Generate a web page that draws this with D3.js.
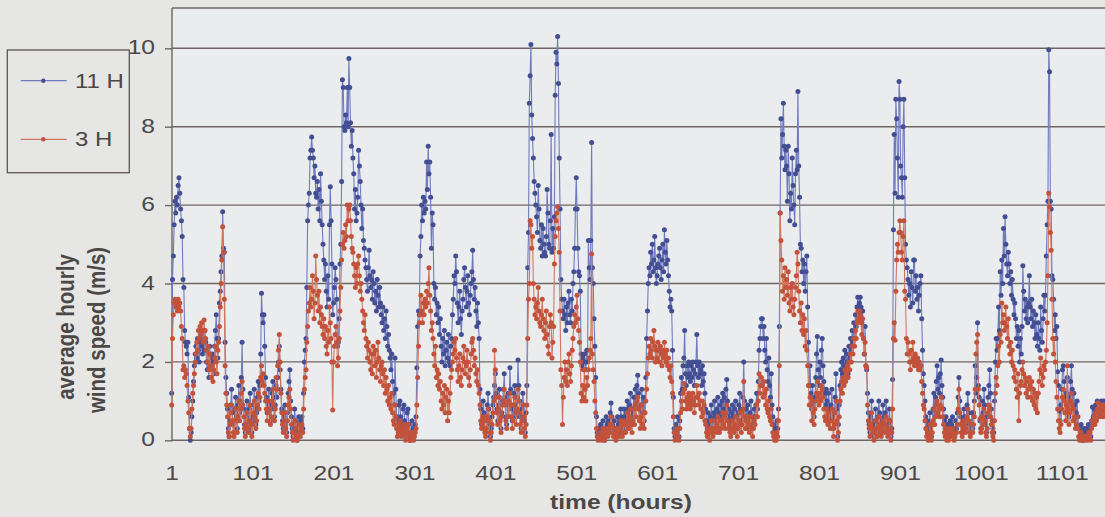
<!DOCTYPE html>
<html>
<head>
<meta charset="utf-8">
<script src="https://cdn.jsdelivr.net/npm/d3@7"></script>
<style>
  body { margin: 0; background: #e6e6e4; }
  svg { display: block; }
  text { font-family: "Liberation Sans", Arial, sans-serif; fill: #4b4846; }
</style>
</head>
<body>
<div id="chart"></div>
<script>
// series names and axis ticks
let seriesNames = ['11 H', '3 H']
let yTicks = [0, 2, 4, 6, 8, 10]
let xTicks = [1, 101, 201, 301, 401, 501, 601, 701, 801, 901, 1001, 1101]

// average hourly wind speed (m/s), one value per hour starting at hour 1
let speed11H = [
  1.2,4.1,4.7,5.5,6.1,5.8,6.2,6.0,6.5,6.7,
  6.3,5.9,5.6,5.2,4.1,3.9,2.8,2.5,2.4,2.2,
  2.5,1.1,0.3,0.0,0.2,0.6,1.0,1.5,1.9,2.2,
  2.4,2.1,2.6,2.3,2.0,2.5,2.7,2.4,2.2,2.6,
  2.3,2.8,2.5,2.0,1.8,2.2,1.6,2.4,2.1,1.9,
  2.2,2.0,1.7,2.4,2.8,3.2,2.6,2.1,2.6,3.5,
  3.8,4.3,4.7,5.83,4.9,4.8,2.5,1.6,1.2,0.8,
  0.3,0.1,0.5,0.9,1.3,0.7,0.4,0.2,0.8,1.1,
  0.6,0.3,0.9,1.4,0.7,1.0,1.6,2.5,1.3,0.8,
  0.4,0.2,0.6,1.0,0.5,0.3,0.8,1.2,0.6,0.2,
  0.5,0.9,1.3,0.8,0.4,0.7,1.1,1.5,1.0,1.4,   // 101
  2.2,3.75,3.2,3.0,3.2,2.4,1.6,1.1,0.7,1.0,
  1.3,0.9,0.5,0.8,1.2,1.5,1.1,0.6,0.9,1.4,
  1.1,1.6,2.0,2.4,1.8,1.3,0.8,0.5,0.3,0.6,
  0.9,0.4,0.2,0.7,1.2,1.5,1.8,1.0,0.6,0.3,
  0.1,0.4,0.8,0.5,0.2,0.0,0.3,0.6,0.4,0.2,
  0.5,0.6,0.3,1.2,2.0,2.3,2.6,3.9,5.6,6.0,
  6.3,7.2,7.4,7.74,7.4,7.2,6.7,7.0,6.3,6.2,
  6.6,5.9,6.4,5.6,6.8,6.1,5.5,5.0,4.6,4.1,
  4.5,3.8,3.4,4.2,3.6,5.5,6.47,5.6,4.5,3.2,
  3.5,3.9,4.4,4.1,3.6,2.4,2.5,3.1,4.5,5.0,   // 201
  6.6,9.2,9.0,8.0,7.9,8.3,8.1,9.0,8.0,9.74,
  9.0,8.1,7.5,7.9,7.2,6.8,5.9,6.4,5.6,5.8,
  6.2,7.4,7.0,6.6,6.0,5.4,5.9,5.1,4.9,4.6,
  4.4,4.1,3.8,4.4,4.85,4.2,3.9,4.1,3.6,4.3,
  4.0,3.5,3.8,3.3,4.1,3.7,3.4,3.9,3.5,3.2,
  3.0,3.4,2.8,3.1,2.6,3.3,2.9,2.4,2.7,2.3,
  2.1,1.8,2.2,1.5,1.2,0.9,2.1,1.3,0.6,0.3,
  0.5,0.9,1.0,0.6,0.2,0.4,0.8,0.9,0.5,0.1,
  0.3,0.7,0.8,0.4,0.1,0.0,0.2,0.5,0.3,0.1,
  0.2,0.4,0.6,1.85,2.9,3.3,3.2,4.7,5.2,6.0,   // 301
  5.6,6.2,5.8,6.1,5.9,7.1,6.4,7.5,6.8,7.1,
  6.2,4.9,5.8,5.5,4.0,3.6,3.9,3.2,3.5,3.0,
  3.4,2.7,3.1,2.4,2.0,2.6,2.2,2.8,1.9,2.3,
  2.5,2.1,2.7,2.0,1.9,2.4,2.6,3.2,3.6,4.2,
  4.0,4.7,4.3,3.5,3.0,3.4,3.8,3.1,2.7,3.3,
  3.6,4.1,4.4,3.9,3.4,3.8,4.2,3.5,3.2,3.7,
  4.0,4.3,4.85,4.1,3.6,3.9,3.3,2.9,3.5,3.0,
  2.6,1.3,0.8,0.4,0.6,1.0,0.7,0.3,0.2,0.5,
  0.9,1.2,0.8,0.4,0.1,0.3,0.6,0.9,1.1,1.4,
  1.7,1.2,0.8,0.5,0.9,1.3,0.6,0.3,0.7,1.0,   // 401
  1.3,1.7,1.1,0.6,0.4,0.9,1.2,0.8,1.85,1.3,
  0.9,0.5,0.8,1.2,1.4,0.9,0.6,1.1,2.05,1.4,
  1.0,0.6,0.3,0.8,1.2,0.9,0.5,0.2,0.7,1.4,
  4.4,5.3,8.6,9.3,10.1,8.3,7.7,7.2,6.6,6.3,
  6.0,5.7,5.3,6.5,5.9,5.1,4.9,5.5,4.7,5.4,
  5.0,4.8,4.7,5.2,6.4,5.8,5.0,4.9,5.6,7.8,
  4.8,5.4,4.9,5.7,8.8,9.9,9.6,10.3,9.1,7.2,
  5.9,4.1,3.6,3.3,3.1,3.6,3.2,2.8,3.4,3.0,
  3.5,3.8,3.2,3.0,3.6,3.3,4.0,4.3,4.9,5.9,
  6.7,5.9,4.9,4.3,4.2,3.8,2.2,1.9,2.1,1.8,   // 501
  2.2,2.0,1.8,2.3,2.0,5.1,4.4,4.1,5.1,7.6,
  4.4,4.0,3.1,2.4,1.6,0.6,0.2,0.1,0.3,0.2,
  0.4,0.1,0.3,0.5,0.2,0.0,0.3,0.6,0.4,0.2,
  0.5,0.3,0.7,0.95,0.6,0.4,0.2,0.5,0.3,0.1,
  0.3,0.6,0.4,0.2,0.5,0.8,0.6,0.3,0.4,0.8,
  0.6,0.3,0.7,1.0,0.8,0.5,0.9,1.2,0.7,0.4,
  0.8,1.1,0.6,1.3,0.9,1.4,1.66,1.2,0.8,0.5,
  0.9,1.3,0.7,1.1,0.5,1.0,1.6,2.6,3.3,4.0,
  4.4,4.2,4.8,4.5,5.0,4.3,4.6,5.2,4.4,4.0,
  4.2,4.5,4.7,4.9,4.4,4.1,4.6,5.0,4.3,5.37,  // 601
  4.8,4.5,5.1,4.6,4.2,3.8,3.4,3.6,3.3,2.3,
  1.1,0.3,0.1,0.4,0.2,0.6,0.3,0.1,0.5,1.2,
  1.6,1.3,1.9,2.1,2.8,1.7,1.4,1.9,1.6,2.0,
  1.7,1.5,1.9,1.6,2.0,1.8,1.4,1.7,2.0,2.7,
  1.9,1.6,2.0,1.7,1.8,1.4,1.9,1.5,1.7,1.2,
  0.8,0.5,0.3,0.7,0.4,0.2,0.6,0.9,0.5,0.3,
  0.7,1.0,0.6,0.4,0.8,1.1,0.7,0.5,0.9,0.6,
  1.0,1.2,0.8,1.1,0.7,1.3,1.55,1.0,0.6,0.8,
  0.5,0.3,0.7,0.9,0.6,0.4,0.8,1.0,0.6,0.3,
  0.7,0.9,1.2,0.8,0.5,0.7,1.1,2.0,1.0,0.6,   // 701
  0.8,0.5,0.9,0.6,0.4,0.7,1.0,0.6,0.3,0.5,
  0.8,0.6,0.9,1.2,0.8,1.5,2.3,2.6,2.9,3.1,
  3.1,2.6,2.9,2.3,2.0,2.6,1.8,1.5,2.1,1.4,
  1.1,1.7,0.9,0.6,0.4,0.2,0.3,0.1,0.5,0.3,
  0.8,2.9,5.8,8.2,7.2,7.8,8.6,7.5,6.9,7.4,
  7.0,6.1,7.5,6.8,5.6,6.3,5.9,7.2,6.5,6.0,
  5.5,6.8,7.4,6.9,8.9,7.0,6.2,5.0,4.9,4.3,
  4.6,4.0,4.5,3.8,4.3,4.7,3.4,2.5,1.4,1.9,
  1.2,0.8,1.4,1.0,0.6,1.1,1.6,2.2,2.65,1.8,
  1.4,2.0,1.6,2.3,2.6,1.9,1.5,1.2,0.9,1.3,   // 801
  1.0,0.7,1.2,0.8,0.5,0.9,1.3,0.6,0.3,0.7,
  1.1,1.7,0.8,0.1,0.4,0.9,1.4,1.8,2.0,1.7,
  2.1,1.9,2.3,1.8,2.2,2.0,1.7,2.4,2.1,2.6,
  2.3,2.8,2.5,3.0,2.6,3.2,2.9,3.4,3.65,3.3,
  3.5,3.65,3.4,3.0,3.3,2.6,2.2,2.9,1.9,1.8,
  1.2,0.7,0.4,0.2,0.6,1.0,0.5,0.3,0.1,0.4,
  0.8,0.5,0.2,0.6,1.0,0.7,0.4,0.2,0.5,0.9,
  0.6,0.3,0.7,1.0,0.5,0.2,0.4,0.8,0.5,0.1,
  0.3,1.55,5.37,7.8,6.3,8.7,8.2,7.2,6.2,9.15,
  8.7,7.0,6.7,6.2,8.0,8.7,6.7,5.0,4.6,4.4,   // 901
  4.1,3.7,4.0,3.4,4.3,3.9,3.5,4.6,4.6,3.8,
  4.2,3.6,3.9,3.3,3.7,4.0,4.2,3.1,2.3,1.7,
  1.4,1.0,0.6,0.3,0.5,0.2,0.4,0.7,0.3,0.1,
  0.4,0.8,1.2,0.7,1.1,1.5,1.9,1.3,1.6,1.2,
  1.7,2.05,1.4,1.1,0.8,0.5,0.3,0.6,0.2,0.4,
  0.1,0.3,0.5,0.2,0.4,0.6,0.3,0.1,0.2,0.5,
  0.3,0.7,1.1,1.6,1.0,0.6,0.4,0.2,0.5,0.8,
  0.6,0.3,0.5,0.9,1.2,0.7,0.4,0.2,0.3,0.7,
  0.3,0.7,1.0,1.9,1.2,1.6,3.0,1.4,1.1,0.5,
  0.3,0.6,1.0,0.7,1.3,0.9,0.4,0.2,0.6,1.1,   // 1001
  1.4,1.8,1.2,0.8,0.5,0.3,0.2,1.0,2.0,2.6,
  2.3,2.6,3.4,2.8,4.3,3.7,4.6,4.0,5.4,4.7,
  5.7,5.0,4.5,4.2,4.8,4.5,4.0,4.3,3.7,4.1,
  3.6,3.2,3.5,3.1,2.6,2.9,2.4,2.8,2.0,2.6,
  2.2,2.9,4.45,3.8,3.3,3.6,3.1,3.4,3.0,3.5,
  4.2,3.4,3.1,3.6,2.9,3.3,3.0,2.6,3.2,2.7,
  2.4,3.0,2.6,2.3,3.4,2.8,2.5,3.1,3.7,3.3,
  3.7,4.7,5.5,6.1,9.96,9.4,6.1,5.9,4.2,4.1,
  3.6,2.8,3.2,2.6,2.9,1.75,1.4,0.75,0.5,0.9,
  1.3,1.8,1.9,1.5,1.1,0.7,1.2,1.6,1.0,0.6,   // 1101
  1.1,1.5,1.9,1.3,0.8,1.2,0.9,0.5,0.7,1.0,
  0.6,0.3,0.1,0.2,0.4,0.1,0.0,0.3,0.2,0.1,
  0.3,0.2,0.1,0.4,0.2,0.3,0.1,0.5,0.85,0.6,
  0.8,0.5,0.9,0.7,1.0,0.8,0.6,0.9,0.85,1.0,
  0.9,0.7,1.0,0.8,0.95,0.7,0.9,1.0
]

let speed3H = [
  0.9,2.6,3.2,3.5,3.6,3.4,3.5,3.3,3.6,3.4,
  3.5,3.3,2.9,2.6,1.8,1.9,1.6,1.8,1.7,1.4,
  1.0,0.7,0.3,0.1,0.3,0.8,1.2,1.4,1.7,2.0,
  2.2,2.5,2.3,2.8,2.6,2.9,2.7,3.0,2.8,2.5,
  3.07,2.8,2.6,2.3,2.0,2.4,1.8,2.2,1.9,1.6,
  1.9,1.5,1.8,2.1,2.4,2.0,1.7,2.3,2.5,2.9,
  3.4,4.0,4.6,5.45,4.8,3.6,1.9,1.2,0.9,0.6,
  0.2,0.1,0.4,0.7,0.9,0.5,0.2,0.1,0.5,0.8,
  0.5,0.2,0.6,1.0,0.5,0.8,1.2,1.5,0.9,0.6,
  0.3,0.1,0.4,0.7,0.3,0.2,0.5,0.9,0.4,0.1,
  0.4,0.7,1.0,0.6,0.3,0.5,0.9,1.2,0.8,1.1,   // 101
  1.6,1.9,1.5,1.7,1.4,1.2,1.0,0.8,0.5,0.7,
  1.0,0.8,0.4,0.6,1.0,1.3,0.9,0.5,0.8,1.6,
  1.3,1.9,2.3,2.7,2.0,1.2,0.7,0.4,0.2,0.5,
  0.7,0.3,0.1,0.5,0.9,1.1,1.3,0.8,0.4,0.2,
  0.0,0.2,0.5,0.3,0.1,0.0,0.1,0.4,0.2,0.1,
  0.3,0.4,0.2,0.8,1.3,1.6,1.8,2.5,2.9,3.3,
  3.5,3.9,3.4,3.6,4.2,3.8,3.1,3.5,4.7,4.1,
  3.7,3.3,3.8,3.0,3.4,3.2,2.9,2.7,3.1,2.6,
  2.9,2.4,2.2,2.8,2.5,3.4,3.0,2.6,2.0,0.77,
  2.0,2.4,2.7,2.9,2.5,1.9,2.1,2.6,3.3,3.9,   // 201
  4.6,5.0,5.3,4.9,5.1,5.5,5.2,6.0,5.6,5.9,
  6.0,5.6,5.2,4.9,4.8,4.5,4.2,3.9,4.4,4.0,
  4.5,4.7,4.2,3.8,4.0,3.6,3.3,3.0,2.8,3.2,
  2.6,2.4,2.1,2.5,2.3,2.0,1.8,2.2,1.7,2.4,
  2.2,1.9,2.3,1.6,2.0,2.5,2.1,1.8,1.5,1.9,
  2.0,1.7,1.4,1.8,1.2,1.6,1.3,1.0,1.4,0.9,
  1.1,0.8,1.2,0.7,0.5,0.4,0.9,0.6,0.3,0.1,
  0.2,0.4,0.5,0.3,0.1,0.2,0.3,0.4,0.2,0.0,
  0.1,0.3,0.4,0.2,0.0,0.0,0.1,0.2,0.1,0.0,
  0.1,0.2,0.3,0.9,1.6,2.4,3.0,3.2,3.7,3.3,   // 301
  3.0,3.5,3.2,3.6,3.4,3.8,3.5,4.0,4.4,3.7,
  3.3,2.8,3.0,2.6,2.2,1.9,2.4,1.6,1.8,1.4,
  1.7,1.3,1.5,1.0,0.8,1.2,0.9,1.4,0.7,1.1,
  1.3,0.5,1.0,0.7,1.2,1.6,1.8,2.0,2.2,2.5,
  2.3,2.6,2.1,1.8,1.5,1.9,2.2,1.6,1.4,1.8,
  2.1,2.4,2.0,1.7,1.9,2.3,2.0,1.6,1.4,1.8,
  2.2,2.5,2.6,2.3,1.9,2.1,1.7,1.5,1.8,1.4,
  1.2,0.9,0.5,0.3,0.4,0.6,0.5,0.2,0.1,0.3,
  0.6,0.8,0.5,0.2,0.0,0.2,0.4,0.7,1.0,2.3,
  1.8,1.1,0.7,0.4,0.8,1.1,0.5,0.2,0.6,0.9,   // 401
  1.0,1.3,0.9,0.5,0.3,0.6,1.0,0.6,1.2,0.9,
  0.6,0.3,0.5,0.9,1.1,0.7,0.4,0.8,1.3,1.0,
  0.7,0.4,0.2,0.5,0.9,0.6,0.3,0.1,0.4,0.9,
  2.6,3.6,4.0,5.6,5.5,4.9,5.2,4.0,3.6,3.2,
  3.4,3.1,3.5,3.9,3.3,3.0,2.9,3.2,3.6,3.1,
  2.8,2.6,3.0,3.3,2.7,2.4,2.2,2.9,3.2,3.0,
  2.1,2.5,2.9,4.5,5.2,5.6,5.8,5.96,5.4,4.8,
  3.3,1.8,1.4,0.4,1.1,1.6,2.0,1.5,1.8,1.4,
  2.0,2.2,1.7,1.5,1.9,2.3,2.6,2.9,3.2,3.0,
  3.4,3.7,3.1,2.8,2.5,2.0,1.2,1.0,1.4,1.1,   // 501
  1.8,1.3,1.0,1.6,1.4,1.8,2.1,2.3,2.6,4.75,
  2.2,1.8,1.5,1.0,0.7,0.3,0.1,0.0,0.1,0.1,
  0.2,0.0,0.1,0.3,0.1,0.0,0.2,0.3,0.2,0.1,
  0.3,0.2,0.4,0.6,0.4,0.2,0.1,0.3,0.2,0.0,
  0.1,0.3,0.2,0.1,0.3,0.5,0.4,0.1,0.2,0.5,
  0.4,0.2,0.4,0.7,0.5,0.3,0.6,0.8,0.4,0.2,
  0.5,0.8,0.4,0.9,0.6,1.0,1.1,0.8,0.5,0.3,
  0.6,0.9,0.4,0.7,0.3,0.7,1.0,1.3,1.7,2.1,
  2.4,2.2,2.6,2.3,2.1,2.5,2.8,2.4,2.0,2.3,
  2.1,2.5,2.3,2.0,2.4,2.2,1.9,2.3,2.1,2.5,   // 601
  2.2,2.0,2.3,1.9,2.1,1.8,1.6,1.9,1.5,1.2,
  0.6,0.2,0.0,0.2,0.1,0.3,0.1,0.0,0.3,0.7,
  1.0,0.8,1.2,1.45,1.3,1.0,0.8,1.1,0.9,1.2,
  1.0,0.8,1.1,0.9,1.2,1.0,0.7,0.9,1.1,1.4,
  1.1,0.9,1.2,1.0,0.8,0.6,1.0,0.7,0.9,0.5,
  0.4,0.2,0.1,0.3,0.2,0.0,0.3,0.5,0.2,0.1,
  0.3,0.5,0.3,0.2,0.4,0.6,0.3,0.2,0.5,0.3,
  0.5,0.7,0.4,0.6,0.3,0.7,0.9,0.5,0.3,0.4,
  0.2,0.1,0.3,0.5,0.3,0.2,0.4,0.6,0.3,0.1,
  0.3,0.5,0.7,0.4,0.2,0.4,0.8,1.5,0.6,0.3,   // 701
  0.5,0.3,0.6,0.4,0.2,0.4,0.6,0.3,0.1,0.3,
  0.5,0.4,0.6,0.9,0.6,1.0,1.7,1.2,1.4,1.6,
  1.4,1.1,1.5,1.2,0.9,1.3,0.8,0.7,1.0,0.6,
  0.5,0.8,0.4,0.2,0.1,0.0,0.1,0.0,0.2,0.1,
  0.5,1.9,5.8,5.1,4.6,3.8,4.2,3.6,4.4,3.9,
  4.1,3.7,4.3,3.5,3.3,3.9,3.6,4.0,3.4,3.2,
  3.6,3.9,4.2,4.8,4.5,3.8,3.3,3.0,3.5,2.8,
  3.2,2.7,3.1,2.4,2.8,2.3,1.9,1.4,0.9,1.1,
  0.9,0.5,1.0,0.7,0.4,0.8,1.0,1.2,1.5,1.1,
  0.9,1.2,1.0,1.4,1.3,1.1,0.8,0.6,0.5,0.8,   // 801
  0.6,0.4,0.7,0.5,0.3,0.5,0.8,0.3,0.1,0.4,
  0.7,1.0,0.5,0.0,0.2,0.6,1.0,1.3,1.5,1.2,
  1.6,1.4,1.8,1.5,1.7,1.9,1.6,2.0,1.8,2.2,
  2.0,2.4,2.2,2.6,2.4,2.8,2.6,3.0,3.3,3.1,
  3.3,3.2,3.0,2.7,3.1,2.6,2.2,2.5,1.9,1.85,
  0.9,0.5,0.3,0.1,0.4,0.7,0.3,0.2,0.0,0.2,
  0.5,0.3,0.1,0.3,0.6,0.4,0.2,0.1,0.3,0.5,
  0.4,0.2,0.4,0.6,0.3,0.1,0.2,0.5,0.3,0.0,
  0.2,0.8,2.6,3.0,2.55,3.8,4.6,5.0,4.8,5.3,
  5.6,5.3,4.8,4.6,5.2,5.6,3.8,3.6,2.6,2.2,   // 901
  2.5,2.2,2.0,1.8,2.3,2.0,2.5,2.1,1.9,2.2,
  2.0,1.9,2.1,1.8,2.0,1.8,1.9,1.5,1.2,0.9,
  0.8,0.5,0.3,0.1,0.2,0.0,0.2,0.4,0.1,0.0,
  0.2,0.5,0.8,0.4,0.6,0.9,1.0,0.7,0.8,0.6,
  0.9,1.1,0.8,0.6,0.4,0.2,0.1,0.3,0.0,0.2,
  0.0,0.1,0.3,0.1,0.2,0.3,0.1,0.0,0.1,0.2,
  0.2,0.4,0.8,1.3,0.7,0.4,0.2,0.1,0.3,0.5,
  0.4,0.2,0.3,0.6,0.8,0.5,0.2,0.1,0.2,0.4,
  0.2,0.4,0.6,1.3,2.2,2.5,2.7,1.3,0.9,0.55,
  0.2,0.3,0.6,0.4,0.8,0.5,0.2,0.1,0.3,0.7,   // 1001
  0.9,0.8,0.6,0.4,0.2,0.1,0.0,0.5,1.2,1.6,
  1.4,1.9,2.4,2.0,2.7,2.5,3.5,3.0,3.2,2.8,
  3.0,3.4,2.9,2.6,3.1,2.4,2.2,2.5,2.0,2.3,
  1.9,1.6,1.8,1.5,1.3,1.1,1.7,0.5,1.2,1.4,
  1.5,1.8,2.0,1.7,1.4,1.6,1.2,1.5,1.1,1.3,
  1.6,1.4,1.1,1.5,1.0,1.3,0.9,1.2,0.8,1.1,
  0.7,1.2,1.5,1.8,2.1,1.7,1.4,1.6,1.9,1.8,
  2.0,2.3,3.0,4.2,6.3,5.95,5.3,4.85,3.6,2.6,
  2.2,2.6,2.0,1.5,1.1,0.8,0.5,0.3,0.2,0.4,
  0.8,1.1,1.3,1.0,0.7,0.5,0.9,1.9,0.8,0.4,   // 1101
  0.7,1.0,1.2,0.9,0.5,0.8,0.6,0.3,0.4,0.6,
  0.3,0.1,0.0,0.1,0.2,0.0,0.0,0.1,0.1,0.0,
  0.1,0.1,0.0,0.2,0.1,0.2,0.0,0.3,0.5,0.4,
  0.6,0.4,0.7,0.5,0.8,0.95,0.6,0.8,0.7,0.9,
  0.8,0.6,0.9,0.7,0.8,0.6,0.8,0.9
]

let colors = ['#434f92', '#c2523b']
let lineColors = ['#6f7bbd', '#d0785f']

let chartWidth = 1105, chartHeight = 517
let plotLeft = 172, plotTop = 8, plotBottom = 440.3

let svg = d3.select('#chart').append('svg')
    .attr('width', chartWidth)
    .attr('height', chartHeight)

svg.append('rect').attr('width', chartWidth).attr('height', chartHeight).attr('fill', '#e6e6e4')
svg.append('rect')
    .attr('x', plotLeft).attr('y', plotTop)
    .attr('width', chartWidth - plotLeft).attr('height', plotBottom - plotTop)
    .attr('fill', '#eaecee')

let x = d3.scaleLinear().domain([1, 1101]).range([171.7, 1061.7])
let y = d3.scaleLinear().domain([0, 11]).range([plotBottom, plotBottom - 11 * 39.2])

// gridlines
svg.append('g')
    .selectAll('line')
    .data(yTicks)
    .enter()
    .append('line')
    .attr('x1', plotLeft).attr('x2', chartWidth)
    .attr('y1', d => y(d)).attr('y2', d => y(d))
    .attr('stroke', '#6e6662')
    .attr('stroke-width', 1.4)

// plot box: top edge and left axis
svg.append('line').attr('x1', plotLeft).attr('x2', chartWidth).attr('y1', plotTop).attr('y2', plotTop)
    .attr('stroke', '#6e6662').attr('stroke-width', 1.4)
svg.append('line').attr('x1', plotLeft).attr('x2', plotLeft).attr('y1', plotTop).attr('y2', plotBottom + 1)
    .attr('stroke', '#6e6662').attr('stroke-width', 1.4)

// y axis
let yAxis = svg.append('g')
    .attr('transform', `translate(${plotLeft},0)`)
    .call(d3.axisLeft(y).tickValues(yTicks).tickSize(7).tickFormat(d3.format('d')))
yAxis.select('.domain').remove()
yAxis.selectAll('line').attr('stroke', '#6e6662').attr('stroke-width', 1.4)
yAxis.selectAll('text')
    .attr('x', 0)
    .attr('dy', '0.32em')
    .attr('transform', 'translate(-17,-1) scale(1.2,1)')
    .style('font-size', '20.5px')
    .style('fill', '#4b4846')

// x axis
let xAxis = svg.append('g')
    .attr('transform', `translate(0,${plotBottom})`)
    .call(d3.axisBottom(x).tickValues(xTicks).tickSize(0).tickFormat(d3.format('d')))
xAxis.select('.domain').remove()
xAxis.selectAll('text')
    .attr('y', 0)
    .attr('dy', 0)
    .attr('transform', 'translate(0,39.7) scale(1.2,1)')
    .style('font-size', '20.5px')
    .style('fill', '#4b4846')

// axis titles
svg.append('text')
    .attr('transform', 'translate(621,509) scale(1.17,1)')
    .attr('text-anchor', 'middle')
    .style('font-size', '21px')
    .style('font-weight', 'bold')
    .text('time (hours)')

let yTitle = svg.append('g')
yTitle.append('text')
    .attr('transform', 'translate(74,327) rotate(-90) scale(1,1.2)')
    .attr('text-anchor', 'middle')
    .style('font-size', '20.5px')
    .style('font-weight', 'bold')
    .text('average hourly')
yTitle.append('text')
    .attr('transform', 'translate(105,330) rotate(-90) scale(1,1.2)')
    .attr('text-anchor', 'middle')
    .style('font-size', '20.5px')
    .style('font-weight', 'bold')
    .text('wind speed (m/s)')

// series
svg.append('clipPath').attr('id', 'plotclip')
    .append('rect').attr('x', plotLeft - 4).attr('y', 0).attr('width', chartWidth - plotLeft + 4).attr('height', plotBottom + 6)

let plot = svg.append('g').attr('clip-path', 'url(#plotclip)')
let lineGen = d3.line().x((d, i) => x(i + 1)).y(d => y(d))

let allSeries = [speed11H, speed3H]
allSeries.forEach((values, s) => {
    plot.append('path')
        .datum(values)
        .attr('d', lineGen)
        .attr('fill', 'none')
        .attr('stroke', lineColors[s])
        .attr('stroke-width', 1.1)
    plot.append('g')
        .selectAll('circle')
        .data(values)
        .enter()
        .append('circle')
        .attr('cx', (d, i) => x(i + 1))
        .attr('cy', d => y(d))
        .attr('r', 2.5)
        .attr('fill', colors[s])
})

// legend
let legend = svg.append('g')
legend.append('rect')
    .attr('x', 7.3).attr('y', 50)
    .attr('width', 122).attr('height', 122.7)
    .attr('fill', '#e6e6e4')
    .attr('stroke', '#5e5652')
    .attr('stroke-width', 1.3)
let legendY = [80.7, 139.3]
seriesNames.forEach((name, s) => {
    legend.append('line')
        .attr('x1', 20.7).attr('x2', 66.7)
        .attr('y1', legendY[s]).attr('y2', legendY[s])
        .attr('stroke', lineColors[s]).attr('stroke-width', 1.2)
    legend.append('circle')
        .attr('cx', 43.3).attr('cy', legendY[s]).attr('r', 2.2)
        .attr('fill', colors[s])
    legend.append('text')
        .attr('transform', `translate(75,${legendY[s] + 7}) scale(1.2,1)`)
        .style('font-size', '20px')
        .text(name)
})
</script>
</body>
</html>
